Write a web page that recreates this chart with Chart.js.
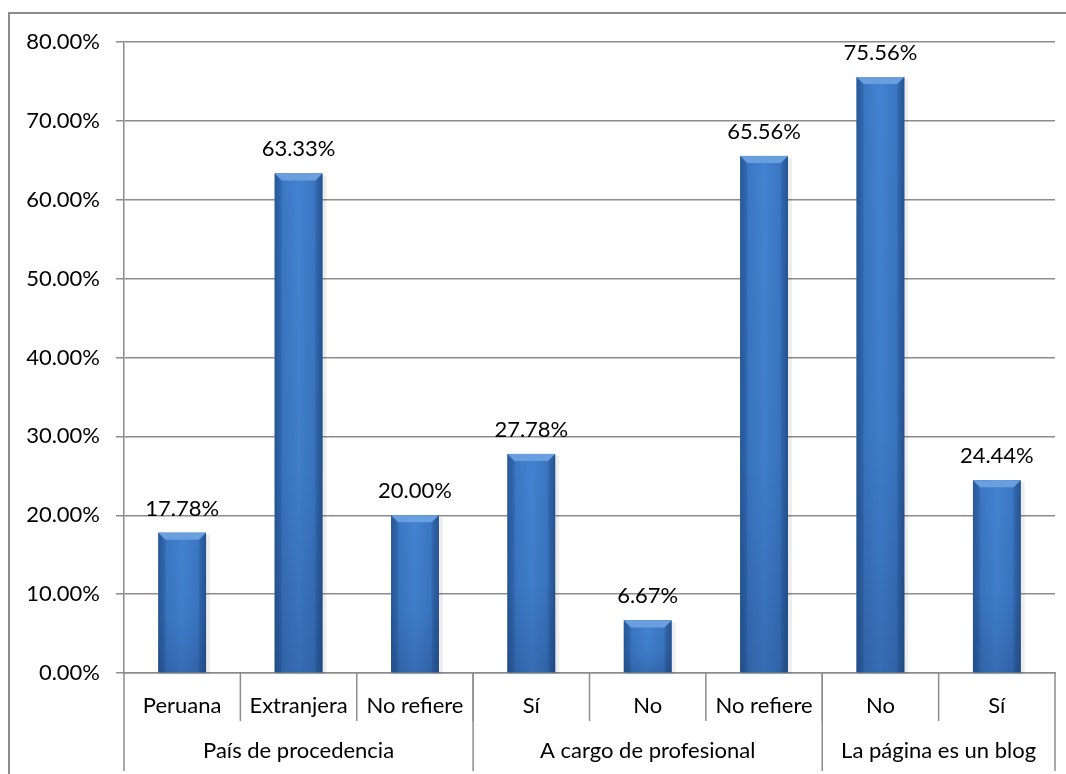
<!DOCTYPE html>
<html>
<head>
<meta charset="utf-8">
<title>Resultados</title>
<script src="https://cdn.jsdelivr.net/npm/chart.js@4.4.0/dist/chart.umd.min.js"></script>
<style>
    html, body { margin: 0; padding: 0; background: #ffffff; }
    #chartBox { width: 1066px; height: 774px; }
</style>
</head>
<body>
<div id="chartBox"><canvas id="resultChart" width="1066" height="774"></canvas></div>
<script>
// Categories (lower level) and their groups (upper level)
const categories = ['Peruana', 'Extranjera', 'No refiere', 'Sí', 'No', 'No refiere', 'No', 'Sí'];
const groupNames = ['País de procedencia', 'A cargo de profesional', 'La página es un blog'];
const groupSizes = [3, 3, 2];

// Percentages
const percentValues = [17.78, 63.33, 20.00, 27.78, 6.67, 65.56, 75.56, 24.44];

// Y axis ticks
const yTickValues = [0, 10, 20, 30, 40, 50, 60, 70, 80];
const yTickLabels = ['0.00%', '10.00%', '20.00%', '30.00%', '40.00%', '50.00%', '60.00%', '70.00%', '80.00%'];

const FONT_FAMILY = 'Lato, "Open Sans", sans-serif';
const FONT_SIZE = 22;
const LINE_GREY = '#8c8c8c';

// Draws the outer frame, the shaded bars, the value labels and the two-level category axis
const chartDecor = {
    id: 'chartDecor',
    beforeDraw(chart) {
        const ctx = chart.ctx;
        ctx.save();
        ctx.strokeStyle = LINE_GREY;
        ctx.lineWidth = 2;
        ctx.beginPath();
        ctx.moveTo(9, chart.height);
        ctx.lineTo(9, 13);
        ctx.lineTo(chart.width, 13);
        ctx.stroke();
        ctx.restore();
    },
    afterDatasetsDraw(chart) {
        const ctx = chart.ctx;
        const meta = chart.getDatasetMeta(0);
        ctx.save();
        meta.data.forEach((bar, i) => {
            const left = bar.x - bar.width / 2;
            const right = bar.x + bar.width / 2;
            const top = bar.y;
            const bottom = bar.base;
            const w = right - left;
            const h = bottom - top;

            // soft shadow
            ctx.fillStyle = 'rgba(0,0,0,0.07)';
            ctx.fillRect(left + 2, top + 2, w + 2, h);

            // body, lighter in the middle
            const g = ctx.createLinearGradient(left, 0, right, 0);
            g.addColorStop(0, '#2d60a2');
            g.addColorStop(0.15, '#3a76c2');
            g.addColorStop(0.5, '#4283d1');
            g.addColorStop(0.85, '#3a76c2');
            g.addColorStop(1, '#2b5a98');
            ctx.fillStyle = g;
            ctx.fillRect(left, top, w, h);

            // darker towards the base
            const v = ctx.createLinearGradient(0, top, 0, bottom);
            v.addColorStop(0, 'rgba(10,30,70,0)');
            v.addColorStop(0.6, 'rgba(10,30,70,0.05)');
            v.addColorStop(1, 'rgba(10,30,70,0.22)');
            ctx.fillStyle = v;
            ctx.fillRect(left, top, w, h);

            // bevel on top
            const bev = Math.min(7, h / 2);
            ctx.fillStyle = '#6a9fdf';
            ctx.beginPath();
            ctx.moveTo(left, top);
            ctx.lineTo(right, top);
            ctx.lineTo(right - bev, top + bev);
            ctx.lineTo(left + bev, top + bev);
            ctx.closePath();
            ctx.fill();
            // side bevels
            ctx.fillStyle = 'rgba(20,50,100,0.16)';
            [[left, left + bev], [right, right - bev]].forEach(([outer, inner]) => {
                ctx.beginPath();
                ctx.moveTo(outer, top);
                ctx.lineTo(inner, top + bev);
                ctx.lineTo(inner, bottom);
                ctx.lineTo(outer, bottom);
                ctx.closePath();
                ctx.fill();
            });

            // value label
            ctx.fillStyle = '#000000';
            ctx.font = FONT_SIZE + 'px ' + FONT_FAMILY;
            ctx.textAlign = 'center';
            ctx.textBaseline = 'alphabetic';
            ctx.fillText(percentValues[i].toFixed(2) + '%', bar.x, top - 17);
        });
        ctx.restore();
    },
    afterDraw(chart) {
        const ctx = chart.ctx;
        const x = chart.scales.x;
        const area = chart.chartArea;
        const step = x.getPixelForValue(1) - x.getPixelForValue(0);
        const edge = i => x.getPixelForValue(i) - step / 2;

        ctx.save();
        ctx.strokeStyle = LINE_GREY;
        ctx.lineWidth = 1.5;

        // separators between categories
        for (let i = 1; i < categories.length; i++) {
            ctx.beginPath();
            ctx.moveTo(edge(i), area.bottom);
            ctx.lineTo(edge(i), area.bottom + 48);
            ctx.stroke();
        }

        // group separators and group labels
        ctx.fillStyle = '#000000';
        ctx.font = FONT_SIZE + 'px ' + FONT_FAMILY;
        ctx.textAlign = 'center';
        ctx.textBaseline = 'middle';
        let start = 0;
        groupNames.forEach((name, gi) => {
            const end = start + groupSizes[gi];
            ctx.beginPath();
            ctx.moveTo(edge(start), area.bottom);
            ctx.lineTo(edge(start), chart.height - 3);
            ctx.stroke();
            if (gi === groupNames.length - 1) {
                ctx.beginPath();
                ctx.moveTo(edge(end), area.bottom);
                ctx.lineTo(edge(end), chart.height - 3);
                ctx.stroke();
            }
            ctx.fillText(name, (edge(start) + edge(end)) / 2, area.bottom + 78);
            start = end;
        });
        ctx.restore();
    }
};

const ctx = document.getElementById('resultChart').getContext('2d');

new Chart(ctx, {
    type: 'bar',
    data: {
        labels: categories,
        datasets: [{
            data: percentValues,
            backgroundColor: '#3a78c4',
            borderWidth: 0,
            barPercentage: 0.41,
            categoryPercentage: 1
        }]
    },
    options: {
        responsive: false,
        animation: false,
        layout: {
            padding: { top: 42, right: 11, left: 0, bottom: 0 }
        },
        plugins: {
            legend: { display: false },
            tooltip: { enabled: false }
        },
        scales: {
            x: {
                offset: true,
                grid: { display: false, drawTicks: false },
                border: { display: true, color: LINE_GREY, width: 1.5 },
                ticks: {
                    autoSkip: false,
                    maxRotation: 0,
                    padding: 20,
                    color: '#000000',
                    font: { family: FONT_FAMILY, size: FONT_SIZE }
                },
                afterFit: scale => { scale.height = 101; }
            },
            y: {
                min: 0,
                max: 80,
                afterBuildTicks: scale => {
                    scale.ticks = yTickValues.map(v => ({ value: v }));
                },
                grid: {
                    color: LINE_GREY,
                    lineWidth: 1.5,
                    tickLength: 8
                },
                border: { display: true, color: LINE_GREY, width: 1.5 },
                ticks: {
                    padding: 16,
                    color: '#000000',
                    font: { family: FONT_FAMILY, size: FONT_SIZE },
                    callback: value => yTickLabels[yTickValues.indexOf(value)]
                },
                afterFit: scale => { scale.width = 124; }
            }
        }
    },
    plugins: [chartDecor]
});
</script>
</body>
</html>
